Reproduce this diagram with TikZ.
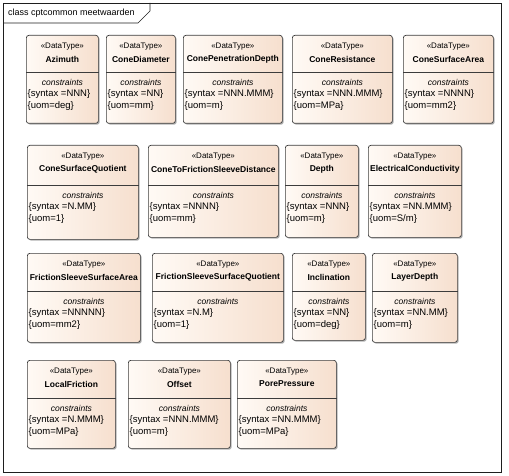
\documentclass[tikz,border=0pt]{standalone}
\usepackage{fontspec}
\setmainfont{Liberation Sans}
\usepackage{tikz}
\usetikzlibrary{positioning, shadows}
\definecolor{dtborder}{RGB}{60, 60, 60}
\definecolor{dtlight}{RGB}{255, 250, 245}
\definecolor{dtpeach}{RGB}{246, 223, 206}
\definecolor{framegray}{RGB}{30, 30, 30}

% one DataType box: name, left, top, width, header height, height, title, syntax, uom
\newcommand{\datatype}[9]{%
  \node[dtbox, minimum width=#4pt, minimum height=#6pt] (#1) at (#2,#3) {};
  \draw[dtsep] ([shift={(0,#5)}]#1.north west) -- ([shift={(0,#5)}]#1.north east);
  \node[dtstereo] (#1-st) at ([shift={(0,12)}]#1.north) {«DataType»};
  \node[dtname] (#1-nm) at ([shift={(0,24)}]#1.north) {#7};
  \node[dtcons] (#1-cs) at ([shift={(0,#5+10)}]#1.north) {constraints};
  \node[dtattr] (#1-sx) at ([shift={(1.5,#5+22)}]#1.north west) {\{syntax =#8\}};
  \node[dtattr] (#1-um) at ([shift={(1.5,#5+34)}]#1.north west) {\{uom=#9\}};
}

\begin{document}
\begin{tikzpicture}[x=1pt, y=-1pt,
    dtbox/.style={rectangle, draw=dtborder, line width=0.7pt, left color=dtlight,
                  right color=dtpeach, rounded corners=2.5pt, anchor=north west,
                  drop shadow={shadow xshift=1.3pt, shadow yshift=-1.3pt,
                               fill=black, opacity=0.3}},
    dtsep/.style={draw=dtborder, line width=0.6pt},
    dtstereo/.style={inner sep=0pt, font=\fontsize{8}{9}\selectfont},
    dtname/.style={inner sep=0pt, font=\fontsize{8.5}{9}\selectfont\bfseries},
    dtcons/.style={inner sep=0pt, font=\fontsize{8.5}{9}\selectfont\itshape},
    dtattr/.style={inner sep=0pt, anchor=west, font=\fontsize{9.5}{10}\selectfont},
    frameline/.style={draw=framegray, line width=0.7pt},
]
\useasboundingbox (0,0) rectangle (509,476);

% package frame
\draw[frameline] (3,3) rectangle (501,472);
\draw[frameline] (3,23) -- (138,23) -- (150,11) -- (150,3);
\node[inner sep=0pt, anchor=west, font=\fontsize{9}{10}\selectfont] (title) at (8,13) {class cptcommon meetwaarden};

% row 1
\datatype{azimuth}{26}{35}{72}{37}{88}{Azimuth}{NNN}{deg}
\datatype{conediam}{106}{35}{69}{37}{88}{ConeDiameter}{NN}{mm}
\datatype{conepen}{183}{35}{99}{37}{88}{ConePenetrationDepth}{NNN.MMM}{m}
\datatype{coneres}{292}{35}{100}{37}{88}{ConeResistance}{NNN.MMM}{MPa}
\datatype{conearea}{403}{35}{90}{37}{88}{ConeSurfaceArea}{NNNN}{mm2}

% row 2
\datatype{conequot}{27}{145}{111}{40}{94}{ConeSurfaceQuotient}{N.MM}{1}
\datatype{conedist}{148}{145}{130}{40}{92}{ConeToFrictionSleeveDistance}{NNNN}{mm}
\datatype{depth}{285}{145}{73}{40}{92}{Depth}{NNN}{m}
\datatype{elcond}{368}{145}{93}{40}{92}{ElectricalConductivity}{NN.MMM}{S/m}

% row 3
\datatype{fsarea}{27}{253}{113}{38}{89}{FrictionSleeveSurfaceArea}{NNNNN}{mm2}
\datatype{fsquot}{152}{253}{131}{38}{89}{FrictionSleeveSurfaceQuotient}{N.M}{1}
\datatype{incl}{292}{253}{73}{38}{87}{Inclination}{NN}{deg}
\datatype{layerdepth}{372}{253}{85}{38}{89}{LayerDepth}{NN.MM}{m}

% row 4
\datatype{localfric}{27}{360}{88}{38}{88}{LocalFriction}{N.MMM}{MPa}
\datatype{offset}{128}{360}{102}{38}{88}{Offset}{NNN.MMM}{m}
\datatype{porepres}{237}{360}{99}{38}{88}{PorePressure}{NN.MMM}{MPa}

\end{tikzpicture}
\end{document}
